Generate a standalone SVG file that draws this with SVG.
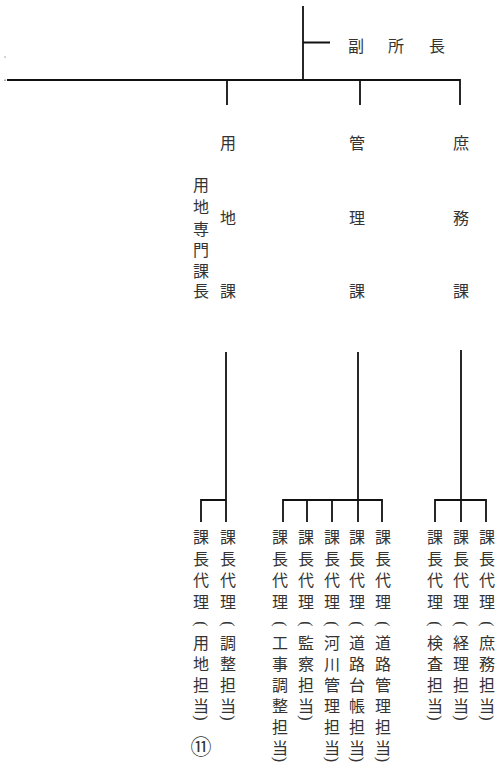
<svg xmlns="http://www.w3.org/2000/svg" width="497" height="768" viewBox="0 0 497 768">
<style>
.t{font-family:"Noto Sans CJK JP","Noto Sans CJK SC",sans-serif;font-size:16px;fill:#333;text-anchor:middle}
.p{font-family:"Liberation Serif",serif;font-size:16px;fill:#333;text-anchor:middle;dominant-baseline:central}
.ln{stroke:#111;stroke-width:1.8;fill:none}
</style>
<defs>
<text id="lp" class="p" transform="rotate(90)">(</text>
<text id="rp" class="p" transform="rotate(90)">)</text>
</defs>
<rect width="497" height="768" fill="#fff"/>
<g id="connectors" class="ln">
<path d="M303 6V80M303 42.5H330"/>
<path d="M7 80H460V105M227 80V105M360 80V105"/>
<path d="M226 352V522M201 522V500H226"/>
<path d="M358 352V522M283 522V500H382V522M307 500V522M332 500V522"/>
<path d="M461 350V522M435 522V500H486V522"/>
</g>
<g id="dots" fill="#555"><rect x="4.5" y="56.5" width="1" height="1"/><rect x="4.5" y="79.5" width="1" height="1.5"/></g>
<g id="fukushocho"><text class="t" y="52"><tspan x="356">副</tspan><tspan x="396">所</tspan><tspan x="437">長</tspan></text></g>
<g id="yochika"><text class="t" x="228"><tspan x="228" y="149">用</tspan><tspan x="228" y="224">地</tspan><tspan x="228" y="297">課</tspan></text></g>
<g id="yochisenmonkacho"><text class="t"><tspan x="201" y="191">用</tspan><tspan x="201" y="213">地</tspan><tspan x="201" y="235">専</tspan><tspan x="201" y="256">門</tspan><tspan x="201" y="277">課</tspan><tspan x="201" y="297">長</tspan></text></g>
<g id="kanrika"><text class="t"><tspan x="357" y="149">管</tspan><tspan x="357" y="224">理</tspan><tspan x="357" y="297">課</tspan></text></g>
<g id="shomuka"><text class="t"><tspan x="461" y="149">庶</tspan><tspan x="461" y="224">務</tspan><tspan x="461" y="297">課</tspan></text></g>
<g id="c1"><text class="t"><tspan x="201" y="543">課</tspan><tspan x="201" y="565">長</tspan><tspan x="201" y="586">代</tspan><tspan x="201" y="608">理</tspan><tspan x="201" y="649">用</tspan><tspan x="201" y="670">地</tspan><tspan x="201" y="691">担</tspan><tspan x="201" y="712">当</tspan></text><use href="#lp" transform="translate(201,624)"/><use href="#rp" transform="translate(201,718)"/><text class="t" x="201" y="754" style="font-size:21px">⑪</text></g>
<g id="c2"><text class="t"><tspan x="228" y="543">課</tspan><tspan x="228" y="565">長</tspan><tspan x="228" y="586">代</tspan><tspan x="228" y="608">理</tspan><tspan x="228" y="649">調</tspan><tspan x="228" y="670">整</tspan><tspan x="228" y="691">担</tspan><tspan x="228" y="712">当</tspan></text><use href="#lp" transform="translate(228,624)"/><use href="#rp" transform="translate(228,718)"/></g>
<g id="c3"><text class="t"><tspan x="280" y="543">課</tspan><tspan x="280" y="565">長</tspan><tspan x="280" y="586">代</tspan><tspan x="280" y="608">理</tspan><tspan x="280" y="649">工</tspan><tspan x="280" y="670">事</tspan><tspan x="280" y="691">調</tspan><tspan x="280" y="712">整</tspan><tspan x="280" y="733">担</tspan><tspan x="280" y="754">当</tspan></text><use href="#lp" transform="translate(280,624)"/><use href="#rp" transform="translate(280,759.5)"/></g>
<g id="c4"><text class="t"><tspan x="306" y="543">課</tspan><tspan x="306" y="565">長</tspan><tspan x="306" y="586">代</tspan><tspan x="306" y="608">理</tspan><tspan x="306" y="649">監</tspan><tspan x="306" y="670">察</tspan><tspan x="306" y="691">担</tspan><tspan x="306" y="712">当</tspan></text><use href="#lp" transform="translate(306,624)"/><use href="#rp" transform="translate(306,718)"/></g>
<g id="c5"><text class="t"><tspan x="332" y="543">課</tspan><tspan x="332" y="565">長</tspan><tspan x="332" y="586">代</tspan><tspan x="332" y="608">理</tspan><tspan x="332" y="649">河</tspan><tspan x="332" y="670">川</tspan><tspan x="332" y="691">管</tspan><tspan x="332" y="712">理</tspan><tspan x="332" y="733">担</tspan><tspan x="332" y="754">当</tspan></text><use href="#lp" transform="translate(332,624)"/><use href="#rp" transform="translate(332,759.5)"/></g>
<g id="c6"><text class="t"><tspan x="357" y="543">課</tspan><tspan x="357" y="565">長</tspan><tspan x="357" y="586">代</tspan><tspan x="357" y="608">理</tspan><tspan x="357" y="649">道</tspan><tspan x="357" y="670">路</tspan><tspan x="357" y="691">台</tspan><tspan x="357" y="712">帳</tspan><tspan x="357" y="733">担</tspan><tspan x="357" y="754">当</tspan></text><use href="#lp" transform="translate(357,624)"/><use href="#rp" transform="translate(357,759.5)"/></g>
<g id="c7"><text class="t"><tspan x="383" y="543">課</tspan><tspan x="383" y="565">長</tspan><tspan x="383" y="586">代</tspan><tspan x="383" y="608">理</tspan><tspan x="383" y="649">道</tspan><tspan x="383" y="670">路</tspan><tspan x="383" y="691">管</tspan><tspan x="383" y="712">理</tspan><tspan x="383" y="733">担</tspan><tspan x="383" y="754">当</tspan></text><use href="#lp" transform="translate(383,624)"/><use href="#rp" transform="translate(383,759.5)"/></g>
<g id="c8"><text class="t"><tspan x="435" y="543">課</tspan><tspan x="435" y="565">長</tspan><tspan x="435" y="586">代</tspan><tspan x="435" y="608">理</tspan><tspan x="435" y="649">検</tspan><tspan x="435" y="670">査</tspan><tspan x="435" y="691">担</tspan><tspan x="435" y="712">当</tspan></text><use href="#lp" transform="translate(435,624)"/><use href="#rp" transform="translate(435,718)"/></g>
<g id="c9"><text class="t"><tspan x="461" y="543">課</tspan><tspan x="461" y="565">長</tspan><tspan x="461" y="586">代</tspan><tspan x="461" y="608">理</tspan><tspan x="461" y="649">経</tspan><tspan x="461" y="670">理</tspan><tspan x="461" y="691">担</tspan><tspan x="461" y="712">当</tspan></text><use href="#lp" transform="translate(461,624)"/><use href="#rp" transform="translate(461,718)"/></g>
<g id="c10"><text class="t"><tspan x="487" y="543">課</tspan><tspan x="487" y="565">長</tspan><tspan x="487" y="586">代</tspan><tspan x="487" y="608">理</tspan><tspan x="487" y="649">庶</tspan><tspan x="487" y="670">務</tspan><tspan x="487" y="691">担</tspan><tspan x="487" y="712">当</tspan></text><use href="#lp" transform="translate(487,624)"/><use href="#rp" transform="translate(487,718)"/></g>
</svg>
